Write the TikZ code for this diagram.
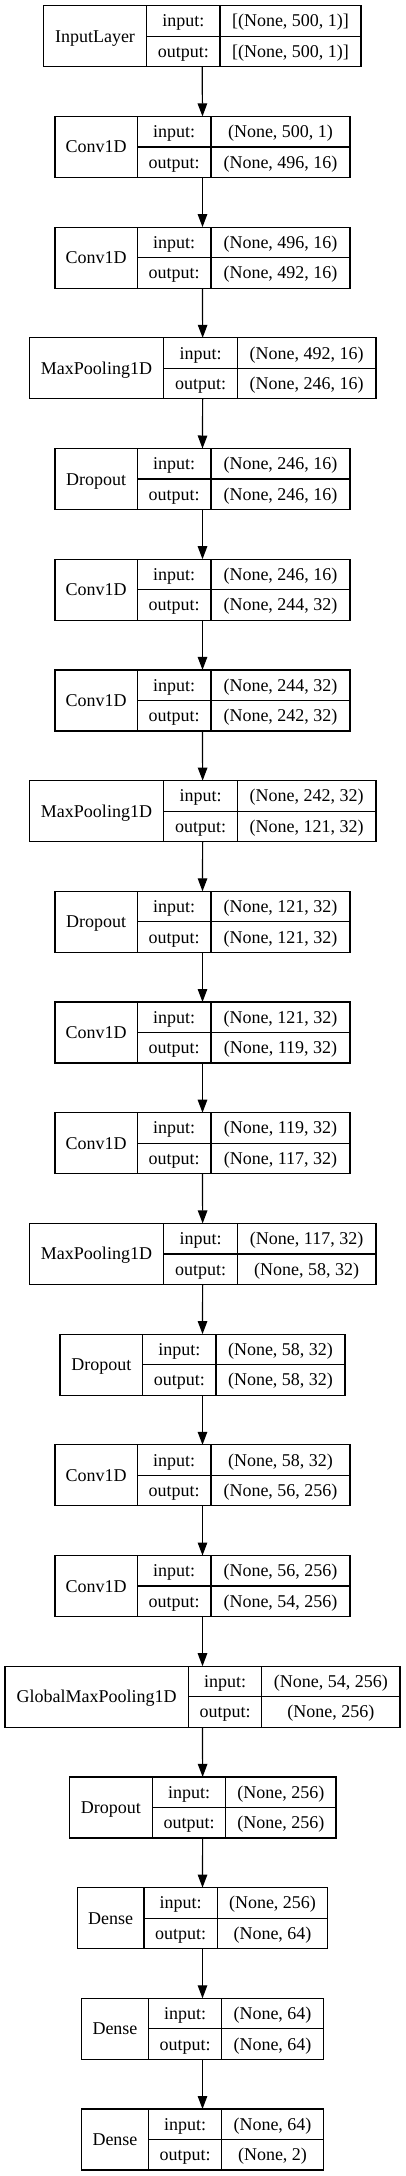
\documentclass[tikz,border=0pt]{standalone}
\usepackage{fontspec}
\setmainfont{Liberation Serif}
\usetikzlibrary{arrows.meta,fit}
\tikzset{
  box/.style={draw=black, line width=1.2pt, inner sep=0pt, outer sep=0pt, rectangle},
  divider/.style={draw=black, line width=1.2pt},
  txt/.style={anchor=base, inner sep=0pt, font=\fontsize{18}{20}\selectfont},
  arr/.style={draw=black, line width=1.2pt, -{Triangle[length=13pt,width=9.5pt]}}
}
\newcommand{\layerbox}[9]{%
  \pgfmathsetmacro{\yt}{-5.7-110.7*#2}%
  \pgfmathsetmacro{\yb}{\yt-61}%
  \pgfmathsetmacro{\ym}{\yt-30.5}%
  \node[box, fit={(#3,\yt) (#6,\yb)}] (#1) {};
  \draw[divider] (#4,\yt) -- (#4,\yb);
  \draw[divider] (#5,\yt) -- (#5,\yb);
  \draw[divider] (#4,\ym) -- (#6,\ym);
  \node[txt] (#1-l) at ({(#3+#4)/2},{\ym-6}) {#7};
  \node[txt] (#1-ik) at ({(#4+#5)/2},{\yt-15.25-6}) {input:};
  \node[txt] (#1-ok) at ({(#4+#5)/2},{\ym-15.25-6}) {output:};
  \node[txt] (#1-iv) at ({(#5+#6)/2},{\yt-15.25-6}) {#8};
  \node[txt] (#1-ov) at ({(#5+#6)/2},{\ym-15.25-6}) {#9};
}
\begin{document}
\begin{tikzpicture}[x=1pt,y=1pt]
\useasboundingbox (0,0) rectangle (405,-2176);
\layerbox{n0}{0}{43.3}{146.7}{220}{361}{InputLayer}{[(None, 500, 1)]}{[(None, 500, 1)]}
\layerbox{n1}{1}{55}{137.3}{211}{350}{Conv1D}{(None, 500, 1)}{(None, 496, 16)}
\layerbox{n2}{2}{55}{137.3}{211}{350}{Conv1D}{(None, 496, 16)}{(None, 492, 16)}
\layerbox{n3}{3}{29.3}{163.7}{237.3}{376}{MaxPooling1D}{(None, 492, 16)}{(None, 246, 16)}
\layerbox{n4}{4}{55}{137.3}{211}{350}{Dropout}{(None, 246, 16)}{(None, 246, 16)}
\layerbox{n5}{5}{55}{137.3}{211}{350}{Conv1D}{(None, 246, 16)}{(None, 244, 32)}
\layerbox{n6}{6}{55}{137.3}{211}{350}{Conv1D}{(None, 244, 32)}{(None, 242, 32)}
\layerbox{n7}{7}{29.3}{163.7}{237.3}{376}{MaxPooling1D}{(None, 242, 32)}{(None, 121, 32)}
\layerbox{n8}{8}{55}{137.3}{211}{350}{Dropout}{(None, 121, 32)}{(None, 121, 32)}
\layerbox{n9}{9}{55}{137.3}{211}{350}{Conv1D}{(None, 121, 32)}{(None, 119, 32)}
\layerbox{n10}{10}{55}{137.3}{211}{350}{Conv1D}{(None, 119, 32)}{(None, 117, 32)}
\layerbox{n11}{11}{29.3}{163.7}{237.3}{376}{MaxPooling1D}{(None, 117, 32)}{(None, 58, 32)}
\layerbox{n12}{12}{60}{142.7}{216}{345}{Dropout}{(None, 58, 32)}{(None, 58, 32)}
\layerbox{n13}{13}{55}{137.3}{211}{350}{Conv1D}{(None, 58, 32)}{(None, 56, 256)}
\layerbox{n14}{14}{55}{137.3}{211}{350}{Conv1D}{(None, 56, 256)}{(None, 54, 256)}
\layerbox{n15}{15}{5}{188.3}{261.7}{400}{GlobalMaxPooling1D}{(None, 54, 256)}{(None, 256)}
\layerbox{n16}{16}{69.3}{152.3}{225.7}{336}{Dropout}{(None, 256)}{(None, 256)}
\layerbox{n17}{17}{77.3}{144}{217.3}{327.7}{Dense}{(None, 256)}{(None, 64)}
\layerbox{n18}{18}{81.7}{148.3}{221.7}{323.3}{Dense}{(None, 64)}{(None, 64)}
\layerbox{n19}{19}{81.7}{148.3}{221.7}{323.3}{Dense}{(None, 64)}{(None, 2)}
\foreach \a/\b in {n0/n1,n1/n2,n2/n3,n3/n4,n4/n5,n5/n6,n6/n7,n7/n8,n8/n9,n9/n10,n10/n11,n11/n12,n12/n13,n13/n14,n14/n15,n15/n16,n16/n17,n17/n18,n18/n19}
  \draw[arr] (\a.south) -- (\b.north);
\end{tikzpicture}
\end{document}
